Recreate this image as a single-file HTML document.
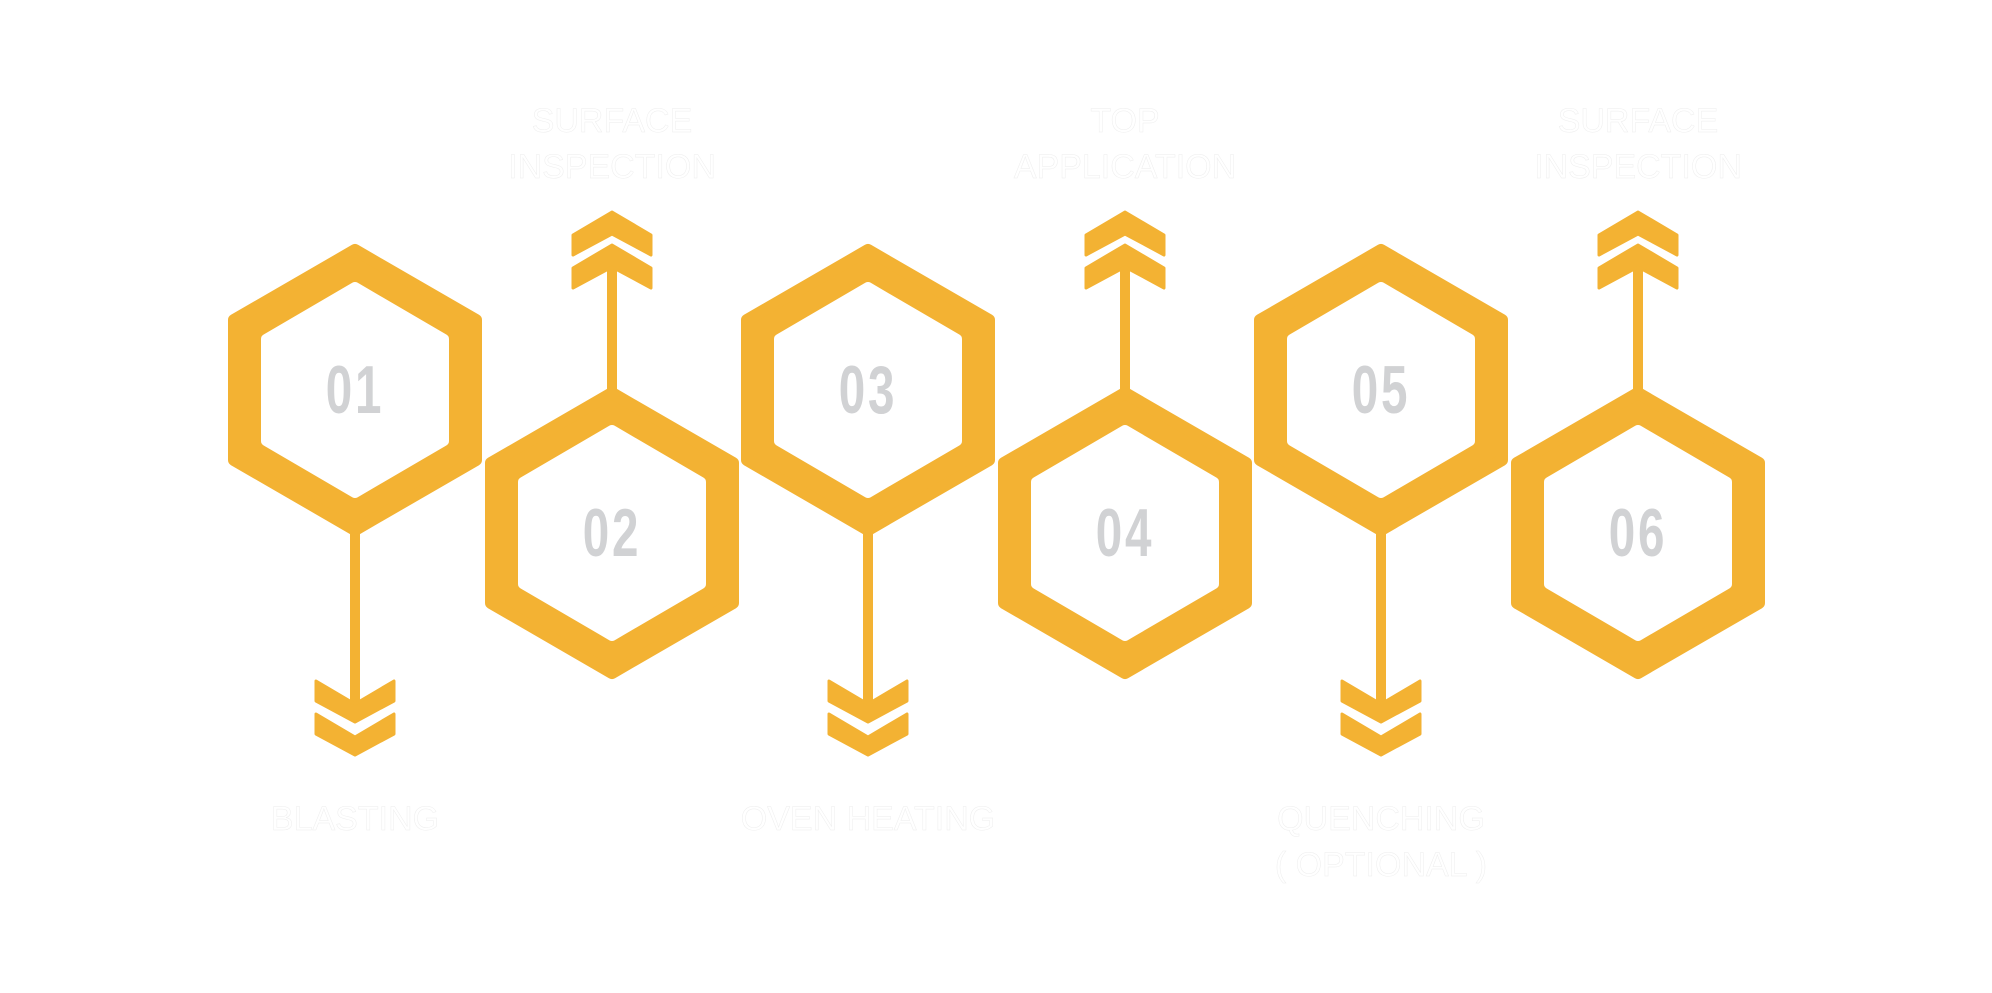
<!DOCTYPE html>
<html><head><meta charset="utf-8"><style>
html,body{margin:0;padding:0;background:#fff}
svg{display:block}
.num{font-family:"Liberation Sans",sans-serif;font-weight:bold;font-size:68px;fill:#d1d2d4;text-anchor:middle;letter-spacing:4px}
.lbl{font-family:"Liberation Sans",sans-serif;font-size:34px;fill:#fff;stroke:#eee;stroke-width:0.5;text-anchor:middle}
</style></head><body>
<svg width="1992" height="993" viewBox="0 0 1992 993" xmlns="http://www.w3.org/2000/svg">
<defs>
<g id="hex">
<polygon points="0,-140 121,-70 121,70 0,140 -121,70 -121,-70" fill="#f3b233" stroke="#f3b233" stroke-width="12" stroke-linejoin="round"/>
<polygon points="0,-103 89,-51 89,51 0,103 -89,51 -89,-51" fill="#fff" stroke="#fff" stroke-width="10" stroke-linejoin="round"/>
</g>
<g id="down">
<rect x="-5" y="140" width="10" height="177" fill="#f3b233"/>
<polygon points="-39,291 0,314 39,291 39,311 0,332 -39,311" fill="#f3b233" stroke="#f3b233" stroke-width="3" stroke-linejoin="round"/>
<polygon points="-39,324 0,347 39,324 39,344 0,365 -39,344" fill="#f3b233" stroke="#f3b233" stroke-width="3" stroke-linejoin="round"/>
</g>
<g id="up">
<rect x="-5" y="-280" width="10" height="140" fill="#f3b233"/>
<polygon points="-39,-278 0,-299 39,-278 39,-298 0,-321 -39,-298" fill="#f3b233" stroke="#f3b233" stroke-width="3" stroke-linejoin="round"/>
<polygon points="-39,-245 0,-266 39,-245 39,-265 0,-288 -39,-265" fill="#f3b233" stroke="#f3b233" stroke-width="3" stroke-linejoin="round"/>
</g>
</defs>
<use href="#down" x="355" y="390"/>
<use href="#up" x="612" y="533"/>
<use href="#down" x="868" y="390"/>
<use href="#up" x="1125" y="533"/>
<use href="#down" x="1381" y="390"/>
<use href="#up" x="1638" y="533"/>
<use href="#hex" x="355" y="390"/>
<use href="#hex" x="612" y="533"/>
<use href="#hex" x="868" y="390"/>
<use href="#hex" x="1125" y="533"/>
<use href="#hex" x="1381" y="390"/>
<use href="#hex" x="1638" y="533"/>
<text class="num" transform="translate(355,413) scale(0.7,1)">01</text>
<text class="num" transform="translate(612,556) scale(0.7,1)">02</text>
<text class="num" transform="translate(868,413) scale(0.7,1)">03</text>
<text class="num" transform="translate(1125,556) scale(0.7,1)">04</text>
<text class="num" transform="translate(1381,413) scale(0.7,1)">05</text>
<text class="num" transform="translate(1638,556) scale(0.7,1)">06</text>
<text class="lbl" x="612" y="132">SURFACE</text>
<text class="lbl" x="612" y="178">INSPECTION</text>
<text class="lbl" x="1125" y="132">TOP</text>
<text class="lbl" x="1125" y="178">APPLICATION</text>
<text class="lbl" x="1638" y="132">SURFACE</text>
<text class="lbl" x="1638" y="178">INSPECTION</text>
<text class="lbl" x="355" y="830">BLASTING</text>
<text class="lbl" x="868" y="830">OVEN HEATING</text>
<text class="lbl" x="1381" y="830">QUENCHING</text>
<text class="lbl" x="1381" y="876">( OPTIONAL )</text>
</svg>
</body></html>
